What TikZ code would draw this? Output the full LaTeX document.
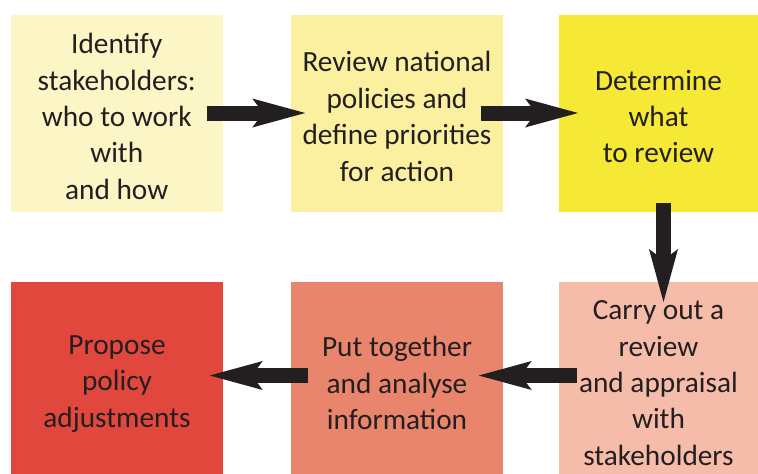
\documentclass[tikz,border=0pt]{standalone}
\usepackage{fontspec}
\setmainfont{Carlito}
\usetikzlibrary{arrows.meta}
\definecolor{cA}{HTML}{FCF6C6}
\definecolor{cB}{HTML}{FAF0A0}
\definecolor{cC}{HTML}{F5E935}
\definecolor{cD}{HTML}{F4BCA9}
\definecolor{cE}{HTML}{EA856D}
\definecolor{cF}{HTML}{E2473E}
\definecolor{txt}{HTML}{231F20}
\definecolor{arr}{HTML}{231F20}
\begin{document}
\begin{tikzpicture}[x=1pt,y=-1pt,
  box/.style={inner sep=0pt, outer sep=0pt},
  label/.style={inner sep=0pt, outer sep=0pt, text=txt, align=center,
    font=\fontsize{29.3}{36.4}\selectfont},
  wbox/.style={box, minimum width=211.5pt, minimum height=197pt},
  rbox/.style={box, minimum width=199pt, minimum height=192pt},
  lbox/.style={box, minimum width=211.5pt, minimum height=192pt},
  flow/.style={line width=15pt, draw=arr,
    -{Stealth[length=53pt,width=29pt,inset=11pt,line width=0pt]}}]
\useasboundingbox (0,0) rectangle (758,474);
\node[wbox, fill=cA] (b1) at (116.75,113.5) {};
\node[wbox, fill=cB] (b2) at (397,113.5) {};
\node[box, fill=cC, minimum width=199pt, minimum height=197pt] (b3) at (658.5,113.5) {};
\node[rbox, fill=cD] (b4) at (658.5,378) {};
\node[lbox, fill=cE] (b5) at (397,378) {};
\node[lbox, fill=cF] (b6) at (117,378) {};
\node[label] (t1) at ([yshift=-3pt]b1.center) {Identify\\stakeholders:\\who to work\\with\\and how};
\node[label] (t2) at ([yshift=-3pt]b2.center) {Review national\\policies and\\define priorities\\for action};
\node[label] (t3) at ([yshift=-3pt]b3.center) {Determine\\what\\to review};
\node[label] (t4) at ([yshift=-5pt]b4.center) {Carry out a\\review\\and appraisal\\with\\stakeholders};
\node[label] (t5) at ([yshift=-5pt]b5.center) {Put together\\and analyse\\information};
\node[label] (t6) at ([yshift=-6pt]b6.center) {Propose\\policy\\adjustments};
\draw[flow] ([xshift=-15.5pt,yshift=0.5pt]b1.east) -- ([xshift=14pt,yshift=0.5pt]b2.west);
\draw[flow] ([xshift=-22pt,yshift=0.5pt]b2.east) -- ([xshift=19pt,yshift=0.5pt]b3.west);
\draw[flow] ([xshift=5pt,yshift=9pt]b3.south) -- ([xshift=5pt,yshift=-20pt]b4.north);
\draw[flow] ([xshift=18pt,yshift=2.5pt]b4.west) -- ([xshift=-24pt,yshift=2.5pt]b5.east);
\draw[flow] ([xshift=17pt,yshift=2.5pt]b5.west) -- ([xshift=-13pt,yshift=2.5pt]b6.east);
\end{tikzpicture}
\end{document}
